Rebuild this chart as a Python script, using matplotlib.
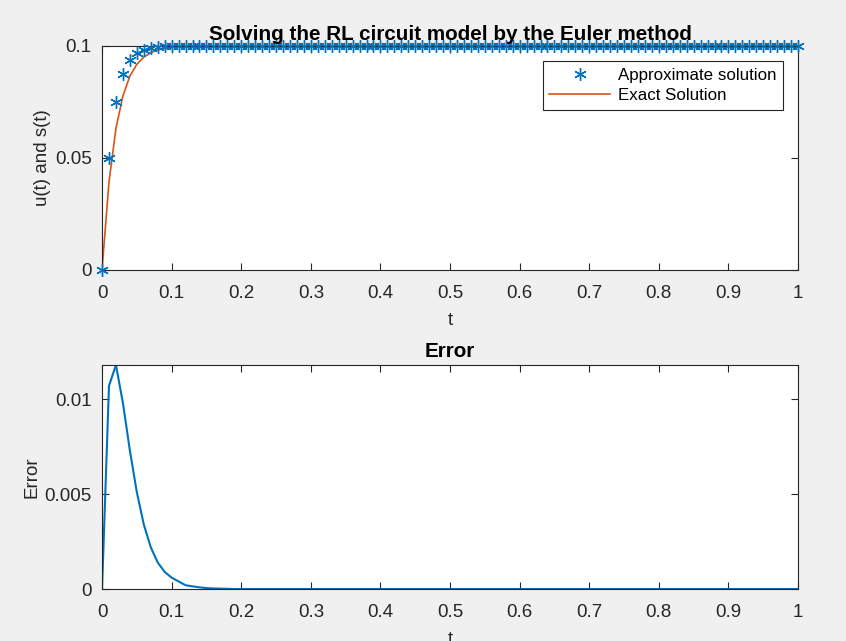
"""
RL circuit solved with Euler's method: approximate vs exact solution and error.
"""

import matplotlib.pyplot as plt

plt.rcParams["font.family"] = ["Liberation Sans", "DejaVu Sans"]

# Sample times (step 0.01 from 0 to 1)
t_values = [round(0.01 * i, 2) for i in range(101)]

# Euler approximation read from the markers
approx_solution = [0, 0.05, 0.075, 0.0875, 0.0938, 0.0969, 0.0984, 0.0992,
                   0.0996, 0.0998, 0.0999] + [0.1] * 90

# Exact solution
exact_solution = [0, 0.0393, 0.0632, 0.0777, 0.0865, 0.0918, 0.0950, 0.0970,
                  0.0982, 0.0989, 0.0993, 0.0996, 0.0998, 0.0998, 0.0999,
                  0.0999] + [0.1] * 85

# Error curve
error_values = [0, 0.0107, 0.0118, 0.0098, 0.0073, 0.0051, 0.0034, 0.0022,
                0.0014, 0.0009, 0.0006, 0.0004, 0.0002, 0.00014, 0.00009,
                0.00005, 0.00003, 0.00002, 0.00001] + [0] * 82

x_ticks = [0, 0.1, 0.2, 0.3, 0.4, 0.5, 0.6, 0.7, 0.8, 0.9, 1]
x_tick_labels = ["0", "0.1", "0.2", "0.3", "0.4", "0.5", "0.6", "0.7",
                 "0.8", "0.9", "1"]

BLUE = "#0072BD"
ORANGE = "#D95319"
INK = "#262626"
BG = "#F0F0F0"
FS = 13.5


def style_axes(ax):
    """Ejes al estilo MATLAB: caja cerrada y marcas hacia dentro."""
    for side in ax.spines.values():
        side.set_color(INK)
        side.set_linewidth(0.8)
    ax.tick_params(direction="in", top=True, right=True, length=5,
                   width=0.8, colors=INK, labelsize=FS)
    ax.tick_params(axis="x", pad=11)
    ax.tick_params(axis="y", pad=7.5)


fig = plt.figure(figsize=(8.46, 6.41), dpi=100, facecolor=BG)
ax1 = fig.add_axes([0.1206, 0.5788, 0.8227, 0.3495])
ax2 = fig.add_axes([0.1206, 0.0811, 0.8227, 0.3495])

# Panel superior
ax1.plot(t_values, approx_solution, linestyle="none", marker=(6, 2, 0),
         markersize=9, markeredgewidth=1.0, color=BLUE, clip_on=False,
         label="Approximate solution", zorder=3)
ax1.plot(t_values, exact_solution, color=ORANGE, linewidth=1.2,
         label="Exact Solution", zorder=2)
ax1.set_xlim(0, 1)
ax1.set_ylim(0, 0.1)
ax1.set_xticks(x_ticks)
ax1.set_xticklabels(x_tick_labels)
ax1.set_yticks([0, 0.05, 0.1])
ax1.set_yticklabels(["0", "0.05", "0.1"])
ax1.set_title("Solving the RL circuit model by the Euler method",
              fontsize=FS * 1.1, fontweight="bold", color="black", pad=4.5)
ax1.set_xlabel("t", fontsize=FS, color=INK, labelpad=7)
ax1.set_ylabel("u(t) and s(t)", fontsize=FS, color=INK, labelpad=2.5)
style_axes(ax1)
leg = ax1.legend(loc="upper right", fontsize=FS * 0.9, frameon=True,
                 fancybox=False, edgecolor=INK, framealpha=1,
                 borderaxespad=0.9, handlelength=3.6, handletextpad=0.45,
                 labelspacing=0.3, borderpad=0.4)
leg.get_frame().set_linewidth(0.8)

# Panel inferior
ax2.plot(t_values, error_values, color=BLUE, linewidth=1.5)
ax2.set_xlim(0, 1)
ax2.set_ylim(0, max(error_values))
ax2.set_xticks(x_ticks)
ax2.set_xticklabels(x_tick_labels)
ax2.set_yticks([0, 0.005, 0.01])
ax2.set_yticklabels(["0", "0.005", "0.01"])
ax2.set_title("Error", fontsize=FS * 1.1, fontweight="bold", color="black",
              pad=5.5)
ax2.set_xlabel("t", fontsize=FS, color=INK, labelpad=7)
ax2.set_ylabel("Error", fontsize=FS, color=INK, labelpad=2.5)
style_axes(ax2)

fig.savefig("out.png", dpi=100, facecolor=BG)
plt.close(fig)
